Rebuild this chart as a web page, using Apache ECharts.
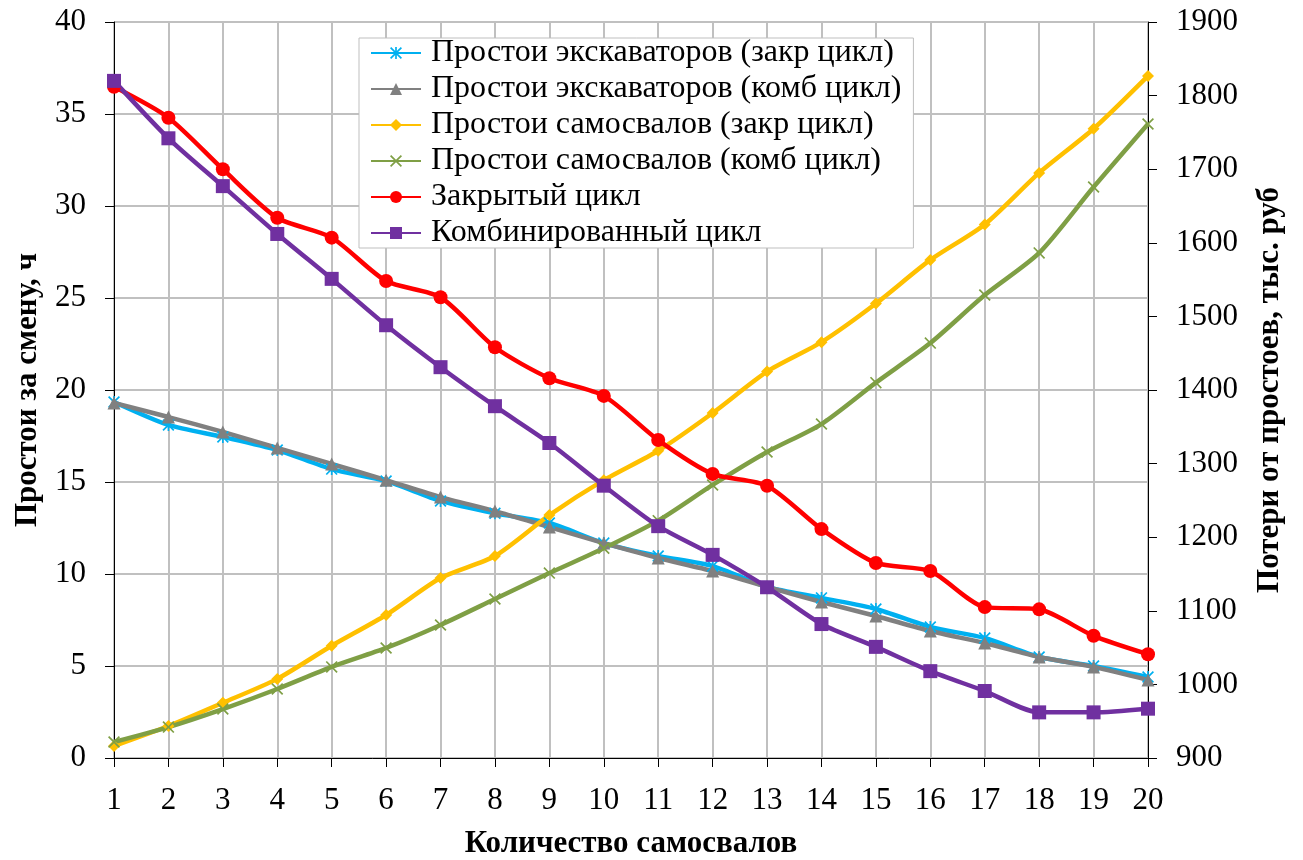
<!DOCTYPE html>
<html>
<head>
<meta charset="utf-8">
<script src="https://cdn.jsdelivr.net/npm/echarts@6/dist/echarts.min.js"></script>
<style>
  html, body { margin: 0; padding: 0; background: #fff; overflow: hidden; }
  #chart { width: 1303px; height: 860px; }
</style>
</head>
<body>
<div id="chart"></div>
<script>
// Number of dump trucks
const trucks = ['1','2','3','4','5','6','7','8','9','10','11','12','13','14','15','16','17','18','19','20'];

// Idle time per shift, hours (left axis)
const excavatorsClosed = [19.35, 18.1, 17.45, 16.74, 15.7, 15.05, 13.97, 13.3, 12.77, 11.68, 10.98, 10.43, 9.3, 8.7, 8.1, 7.12, 6.52, 5.49, 5.0, 4.4];
const excavatorsCombined = [19.3, 18.53, 17.72, 16.85, 15.98, 15.1, 14.18, 13.42, 12.55, 11.68, 10.87, 10.16, 9.3, 8.48, 7.72, 6.9, 6.25, 5.49, 4.95, 4.24];
const trucksClosed = [0.65, 1.74, 3.0, 4.3, 6.1, 7.77, 9.78, 10.98, 13.2, 15.1, 16.7, 18.75, 21.0, 22.6, 24.7, 27.07, 29.0, 31.8, 34.2, 37.07];
const trucksCombined = [0.87, 1.68, 2.66, 3.75, 4.95, 5.98, 7.23, 8.64, 10.05, 11.4, 12.9, 14.84, 16.63, 18.15, 20.4, 22.55, 25.16, 27.45, 31.03, 34.46];

// Losses from idle time, thousand rubles (right axis)
const lossClosed = [1812, 1770, 1700, 1634, 1607, 1548, 1526, 1458, 1416, 1392, 1332, 1286, 1270, 1211, 1165, 1154, 1105, 1102, 1066, 1041];
const lossCombined = [1820, 1742, 1677, 1612, 1551, 1488, 1431, 1378, 1328, 1270, 1215, 1176, 1132, 1082, 1051, 1018, 991, 962, 962, 967];

const seriesNames = [
  'Простои экскаваторов (закр цикл)',
  'Простои экскаваторов (комб цикл)',
  'Простои самосвалов (закр цикл)',
  'Простои самосвалов (комб цикл)',
  'Закрытый цикл',
  'Комбинированный цикл'
];

const FONT = '"Liberation Serif", "Times New Roman", serif';

// Marker shapes
const crossPath = 'path://M1,0 L5,4 L9,0 L10,1 L6,5 L10,9 L9,10 L5,6 L1,10 L0,9 L4,5 L0,1 Z';
const starPath = 'path://M1,0 L5,4 L9,0 L10,1 L6,5 L10,9 L9,10 L5,6 L1,10 L0,9 L4,5 L0,1 Z M4.3,0 L5.7,0 L5.7,10 L4.3,10 Z';

function lineSeries(name, data, color, symbol, size, yIndex) {
  return {
    name: name,
    type: 'line',
    yAxisIndex: yIndex,
    data: data,
    smooth: 0.25,
    symbol: symbol,
    symbolSize: size,
    showSymbol: true,
    lineStyle: { color: color, width: 4.5 },
    itemStyle: { color: color },
    emphasis: { disabled: true },
    z: 3
  };
}

const chart = echarts.init(document.getElementById('chart'), null, { renderer: 'canvas' });

chart.setOption({
  animation: false,
  backgroundColor: '#ffffff',
  textStyle: { fontFamily: FONT },
  grid: { left: 114, right: 155, top: 22, bottom: 102, containLabel: false, outerBoundsMode: 'none' },
  legend: {
    orient: 'vertical',
    left: 359,
    top: 38,
    data: seriesNames,
    backgroundColor: '#ffffff',
    borderColor: '#bfbfbf',
    borderWidth: 1,
    padding: [-1, 12, -1, 11],
    itemWidth: 50,
    itemHeight: 15,
    itemGap: 4,
    textStyle: { fontFamily: FONT, fontSize: 32, lineHeight: 32, color: '#000', padding: [0, 0, 0, 5] }
  },
  xAxis: {
    type: 'category',
    data: trucks,
    boundaryGap: false,
    name: 'Количество самосвалов',
    nameLocation: 'middle',
    nameGap: 70,
    nameTextStyle: { fontFamily: FONT, fontSize: 31, fontWeight: 'bold', color: '#000' },
    axisLine: { lineStyle: { color: '#000', width: 1 } },
    axisTick: { show: true, inside: false, length: 9, alignWithLabel: true, lineStyle: { color: '#000' } },
    axisLabel: { fontFamily: FONT, fontSize: 31, color: '#000', margin: 27 },
    splitLine: { show: true, lineStyle: { color: '#c0c0c0', width: 2 } }
  },
  yAxis: [
    {
      type: 'value',
      min: 0,
      max: 40,
      interval: 5,
      name: 'Простои за смену, ч',
      nameLocation: 'middle',
      nameGap: 71,
      nameRotate: 90,
      nameTextStyle: { fontFamily: FONT, fontSize: 31, fontWeight: 'bold', color: '#000' },
      axisLine: { show: true, lineStyle: { color: '#000', width: 1 } },
      axisTick: { show: true, inside: false, length: 9, lineStyle: { color: '#000' } },
      axisLabel: { fontFamily: FONT, fontSize: 31, color: '#000', margin: 28 },
      splitLine: { show: true, lineStyle: { color: '#c0c0c0', width: 2 } }
    },
    {
      type: 'value',
      min: 900,
      max: 1900,
      interval: 100,
      position: 'right',
      name: 'Потери от простоев, тыс. руб',
      nameLocation: 'middle',
      nameGap: 106,
      nameRotate: 90,
      nameTextStyle: { fontFamily: FONT, fontSize: 31, fontWeight: 'bold', color: '#000' },
      axisLine: { show: true, lineStyle: { color: '#000', width: 1 } },
      axisTick: { show: true, inside: false, length: 9, lineStyle: { color: '#000' } },
      axisLabel: { fontFamily: FONT, fontSize: 31, color: '#000', margin: 28, formatter: function (v) { return String(v); } },
      splitLine: { show: false }
    }
  ],
  series: [
    lineSeries(seriesNames[0], excavatorsClosed, '#00B0F0', starPath, 12, 0),
    lineSeries(seriesNames[1], excavatorsCombined, '#808080', 'triangle', 13, 0),
    lineSeries(seriesNames[2], trucksClosed, '#FFC000', 'diamond', 12, 0),
    lineSeries(seriesNames[3], trucksCombined, '#7F9F45', crossPath, 12, 0),
    lineSeries(seriesNames[4], lossClosed, '#FF0000', 'circle', 14, 1),
    lineSeries(seriesNames[5], lossCombined, '#7030A0', 'rect', 14, 1)
  ]
});
</script>
</body>
</html>
